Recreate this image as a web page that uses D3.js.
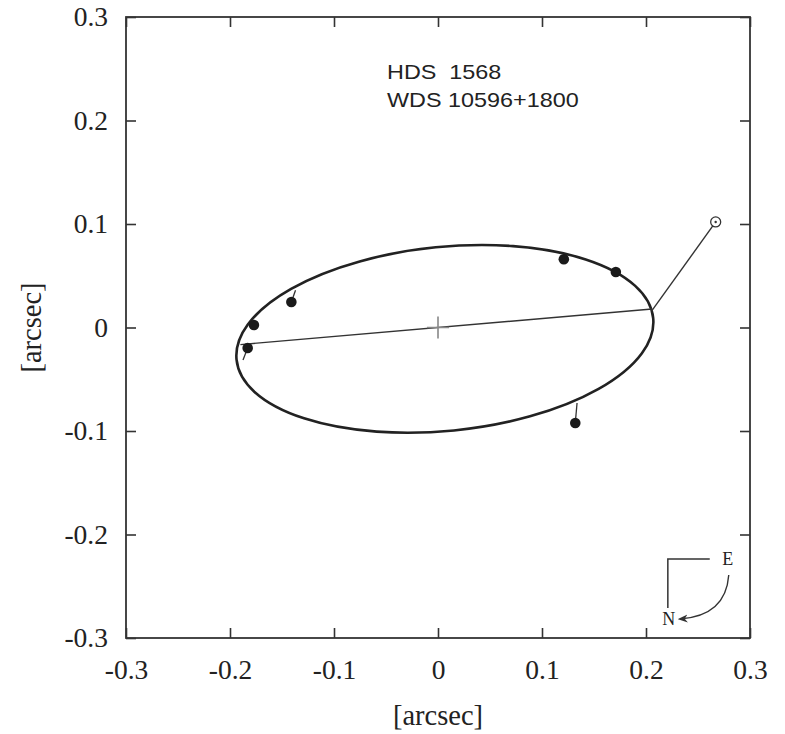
<!doctype html>
<html lang="en">
<head>
<meta charset="utf-8">
<title>HDS 1568 orbit</title>
<script src="https://cdn.jsdelivr.net/npm/d3@7"></script>
<style>
body { margin: 0; background: #fff; }
svg text { fill: #222; }
</style>
</head>
<body>
<div id="chart"></div>
<script>

// ticks
const xTicks = [-0.3, -0.2, -0.1, 0, 0.1, 0.2, 0.3];
const yTicks = [-0.3, -0.2, -0.1, 0, 0.1, 0.2, 0.3];

// measured positions (filled) and where the residual line meets the orbit
const obsX = [-0.177, -0.183, -0.141, 0.121, 0.171, 0.132];
const obsY = [0.0024, -0.0198, 0.0246, 0.066, 0.0536, -0.0923];
const fitX = [-0.178, -0.1875, -0.137, 0.121, 0.171, 0.1337];
const fitY = [0.004, -0.0314, 0.036, 0.067, 0.055, -0.073];

// open circle and its link to the orbit
const openPt = [0.267, 0.102];
const openLink = [0.2055, 0.016];

// line of nodes
const nodesX = [-0.19, 0.2058];
const nodesY = [-0.0165, 0.0179];

// apparent orbit: centre, semi-axes (arcsec), tilt (deg)
const orbitCentre = [0.0066, -0.011];
const orbitAxes = [0.2013, 0.0889];
const orbitTilt = 5.7;

const labels = ['HDS  1568', 'WDS 10596+1800'];

const W = 785, H = 734;
const x = d3.scaleLinear().domain([-0.3, 0.3]).range([126, 750]);
const y = d3.scaleLinear().domain([-0.3, 0.3]).range([638, 17]);

const svg = d3.select('#chart').append('svg')
    .attr('width', W).attr('height', H);

const fmt = d => d === 0 ? '0' : d3.format('.1f')(d).replace('−', '-');
const serif = '"Liberation Serif", "Times New Roman", serif';

function styleAxis(g) {
    g.selectAll('path, line').attr('stroke', '#333').attr('stroke-width', 1.6);
    g.select('.domain').remove();
    g.selectAll('text').style('font-family', serif).style('font-size', '27.5px').attr('fill', '#222');
}

svg.append('g').attr('transform', 'translate(0,638)')
    .call(d3.axisBottom(x).tickValues(xTicks).tickSize(-10).tickPadding(21).tickFormat(fmt))
    .call(styleAxis);
svg.append('g').attr('transform', 'translate(126,0)')
    .call(d3.axisLeft(y).tickValues(yTicks).tickSize(-10).tickPadding(18).tickFormat(fmt))
    .call(styleAxis);
svg.append('g').attr('transform', 'translate(0,17)')
    .call(d3.axisTop(x).tickValues(xTicks).tickSize(-10).tickFormat(''))
    .call(styleAxis);
svg.append('g').attr('transform', 'translate(750,0)')
    .call(d3.axisRight(y).tickValues(yTicks).tickSize(-10).tickFormat(''))
    .call(styleAxis);

svg.append('rect')
    .attr('x', x(-0.3)).attr('y', y(0.3))
    .attr('width', x(0.3) - x(-0.3)).attr('height', y(-0.3) - y(0.3))
    .attr('fill', 'none').attr('stroke', '#333').attr('stroke-width', 1.8);

// axis titles
svg.append('text')
    .attr('x', x(0)).attr('y', 725)
    .attr('text-anchor', 'middle')
    .style('font-family', serif).style('font-size', '28.5px')
    .text('[arcsec]');
svg.append('text')
    .attr('transform', 'translate(41,' + y(0) + ') rotate(-90)')
    .attr('text-anchor', 'middle')
    .style('font-family', serif).style('font-size', '28.5px')
    .text('[arcsec]');

// orbit
svg.append('ellipse')
    .attr('cx', 0).attr('cy', 0)
    .attr('rx', x(orbitAxes[0]) - x(0))
    .attr('ry', y(0) - y(orbitAxes[1]))
    .attr('transform', 'translate(' + x(orbitCentre[0]) + ',' + y(orbitCentre[1]) + ') rotate(' + (-orbitTilt) + ')')
    .attr('fill', 'none').attr('stroke', '#222').attr('stroke-width', 2.6);

// line of nodes
svg.append('line')
    .attr('x1', x(nodesX[0])).attr('y1', y(nodesY[0]))
    .attr('x2', x(nodesX[1])).attr('y2', y(nodesY[1]))
    .attr('stroke', '#333').attr('stroke-width', 1.4);

// link to open circle
svg.append('line')
    .attr('x1', x(openLink[0])).attr('y1', y(openLink[1]))
    .attr('x2', x(openPt[0])).attr('y2', y(openPt[1]))
    .attr('stroke', '#333').attr('stroke-width', 1.4);

// primary
const c0x = x(0), c0y = y(0);
svg.append('path')
    .attr('d', `M${c0x - 11},${c0y}H${c0x + 11}M${c0x},${c0y - 11}V${c0y + 11}`)
    .attr('stroke', '#888').attr('stroke-width', 1.6);

// residuals
svg.selectAll('line.res').data(obsX).join('line')
    .attr('class', 'res')
    .attr('x1', (d, i) => x(d)).attr('y1', (d, i) => y(obsY[i]))
    .attr('x2', (d, i) => x(fitX[i])).attr('y2', (d, i) => y(fitY[i]))
    .attr('stroke', '#333').attr('stroke-width', 1.3);

svg.selectAll('circle.obs').data(obsX).join('circle')
    .attr('class', 'obs')
    .attr('cx', d => x(d)).attr('cy', (d, i) => y(obsY[i]))
    .attr('r', 5.3).attr('fill', '#1a1a1a');

svg.append('circle')
    .attr('cx', x(openPt[0])).attr('cy', y(openPt[1]))
    .attr('r', 5).attr('fill', '#fff').attr('stroke', '#333').attr('stroke-width', 1.3);
svg.append('circle')
    .attr('cx', x(openPt[0])).attr('cy', y(openPt[1]))
    .attr('r', 1.2).attr('fill', '#333');

// star names (glyphs in the source are wide, so stretch horizontally)
svg.selectAll('text.name').data(labels).join('text')
    .attr('class', 'name')
    .attr('transform', (d, i) => `translate(387,${79 + i * 28}) scale(1.17,1)`)
    .style('font-family', '"Liberation Sans", Arial, sans-serif')
    .style('font-size', '20px')
    .style('white-space', 'pre')
    .text(d => d);

// compass
const cx0 = x(0.221), cx1 = x(0.269), cyTop = y(-0.2237), cyBot = y(-0.271);
svg.append('path')
    .attr('d', `M${cx0},${cyBot}V${cyTop}H${cx1 - 8}`)
    .attr('fill', 'none').attr('stroke', '#333').attr('stroke-width', 1.5);
svg.append('text')
    .attr('x', cx1 + 10).attr('y', cyTop + 6)
    .attr('text-anchor', 'middle')
    .style('font-family', serif).style('font-size', '18px')
    .text('E');
svg.append('text')
    .attr('x', cx0 + 1).attr('y', cyBot + 17)
    .attr('text-anchor', 'middle')
    .style('font-family', serif).style('font-size', '18px')
    .text('N');

svg.append('defs').append('marker')
    .attr('id', 'head').attr('viewBox', '0 0 10 10')
    .attr('refX', 8).attr('refY', 5)
    .attr('markerWidth', 7).attr('markerHeight', 7)
    .attr('orient', 'auto-start-reverse')
    .append('path').attr('d', 'M0,1L10,5L0,9L3,5Z').attr('fill', '#333');

svg.append('path')
    .attr('d', `M${cx1 + 11},${cyTop + 16} Q${cx1 + 8},${cyBot + 8} ${cx0 + 12},${cyBot + 11}`)
    .attr('fill', 'none').attr('stroke', '#333').attr('stroke-width', 1.4)
    .attr('marker-end', 'url(#head)');

</script>
</body>
</html>
